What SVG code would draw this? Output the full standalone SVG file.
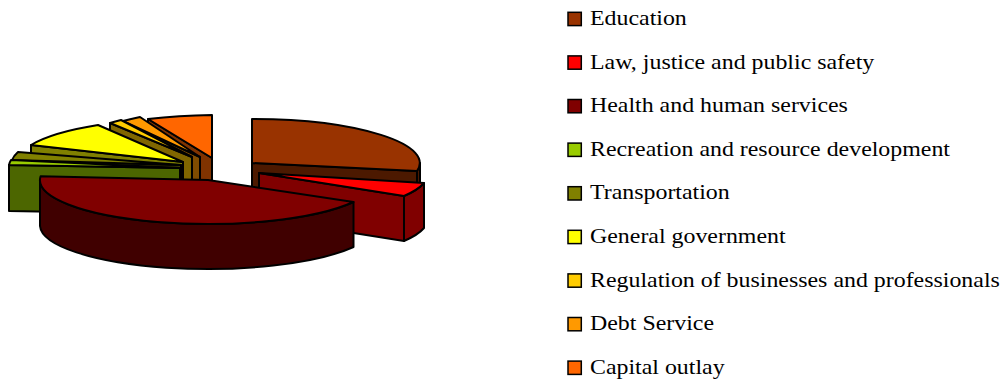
<svg xmlns="http://www.w3.org/2000/svg" width="1004" height="382" viewBox="0 0 1004 382">
<style>
.s{stroke:#000;stroke-width:2;stroke-linejoin:round}
.k{stroke:#000;stroke-width:1.5}
.t{font-family:"Liberation Serif","Times New Roman",serif;font-size:20.5px;fill:#000}
</style>
<rect width="1004" height="382" fill="#fff"/>
<g id="pie">
<g id="slice-education">
<path class="s" fill="#4C1900" d="M252,163 L417,171 L417,216 L252,208 Z"/>
<path class="s" fill="#4C1900" d="M420,163 A168,44 0 0 1 417,171 L417,216 A168,44 0 0 0 420,208 Z"/>
<path class="s" fill="#993300" d="M252,163 L252,119 A168,44 0 0 1 417,171 Z"/>
</g>
<g id="slice-capital">
<path class="s" fill="#803300" d="M212,158 L148,119 L148,164 L212,203 Z"/>
<path class="s" fill="#FF6600" d="M212,158 L148,119 A170,43 0 0 1 212,115 Z"/>
</g>
<g id="slice-debt">
<path class="s" fill="#804C00" d="M200,157 L123,121 L123,166 L200,202 Z"/>
<path class="s" fill="#FF9900" d="M200,157 L123,121 A170,44 0 0 1 140,117 Z"/>
</g>
<g id="slice-regulation">
<path class="s" fill="#806600" d="M192,157 L110,123 L110,168 L192,202 Z"/>
<path class="s" fill="#FFCC00" d="M192,157 L110,123 A170,44 0 0 1 121,120 Z"/>
</g>
<g id="slice-general">
<path class="s" fill="#808000" d="M183,162 L31,145 L31,190 L183,207 Z"/>
<path class="s" fill="#FFFF00" d="M183,162 L31,145 A170,44 0 0 1 98,125 Z"/>
</g>
<g id="slice-transportation">
<path class="s" fill="#404000" d="M181,165 L12,160 L12,205 L181,210 Z"/>
<path class="s" fill="#808000" d="M181,165 L12,160 A171,44 0 0 1 18,152 Z"/>
</g>
<g id="slice-recreation">
<path class="s" fill="#4C6600" d="M180,168 L9,165 L9,211 L180,214 Z"/>
<path class="s" fill="#99CC00" d="M180,168 L9,165 A171,44 0 0 1 11,160 Z"/>
</g>
<g id="slice-law">
<path class="s" fill="#800000" d="M259,173 L404,196 L404,241 L259,218 Z"/>
<path class="s" fill="#800000" d="M424,183 A170,44 0 0 1 404,196 L404,241 A170,44 0 0 0 424,228 Z"/>
<path class="s" fill="#FF0000" d="M259,173 L424,183 A170,44 0 0 1 404,196 Z"/>
</g>
<g id="slice-health">
<path class="s" fill="#400000" d="M353.5,202 A168,44 0 0 1 40,180 L40,226 A168,44 0 0 0 353.5,247 Z"/>
<path class="s" fill="#800000" d="M208,180 L353.5,202 A168,44 0 0 1 40.6,176.2 Z"/>
</g>
</g>
<g id="legend">
<g id="legend-education"><rect class="k" x="568" y="12.3" width="13.3" height="13.3" fill="#993300"/><text class="t" transform="translate(590,25) scale(1.165,1)">Education</text></g>
<g id="legend-law"><rect class="k" x="568" y="55.9" width="13.3" height="13.3" fill="#FF0000"/><text class="t" transform="translate(590,68.6) scale(1.165,1)">Law, justice and public safety</text></g>
<g id="legend-health"><rect class="k" x="568" y="99.5" width="13.3" height="13.3" fill="#800000"/><text class="t" transform="translate(590,112.2) scale(1.165,1)">Health and human services</text></g>
<g id="legend-recreation"><rect class="k" x="568" y="143.1" width="13.3" height="13.3" fill="#99CC00"/><text class="t" transform="translate(590,155.8) scale(1.165,1)">Recreation and resource development</text></g>
<g id="legend-transportation"><rect class="k" x="568" y="186.7" width="13.3" height="13.3" fill="#808000"/><text class="t" transform="translate(590,199.4) scale(1.165,1)">Transportation</text></g>
<g id="legend-general"><rect class="k" x="568" y="230.3" width="13.3" height="13.3" fill="#FFFF00"/><text class="t" transform="translate(590,243) scale(1.165,1)">General government</text></g>
<g id="legend-regulation"><rect class="k" x="568" y="273.9" width="13.3" height="13.3" fill="#FFCC00"/><text class="t" transform="translate(590,286.6) scale(1.165,1)">Regulation of businesses and professionals</text></g>
<g id="legend-debt"><rect class="k" x="568" y="317.5" width="13.3" height="13.3" fill="#FF9900"/><text class="t" transform="translate(590,330.2) scale(1.165,1)">Debt Service</text></g>
<g id="legend-capital"><rect class="k" x="568" y="361.1" width="13.3" height="13.3" fill="#FF6600"/><text class="t" transform="translate(590,373.8) scale(1.165,1)">Capital outlay</text></g>
</g>
</svg>
